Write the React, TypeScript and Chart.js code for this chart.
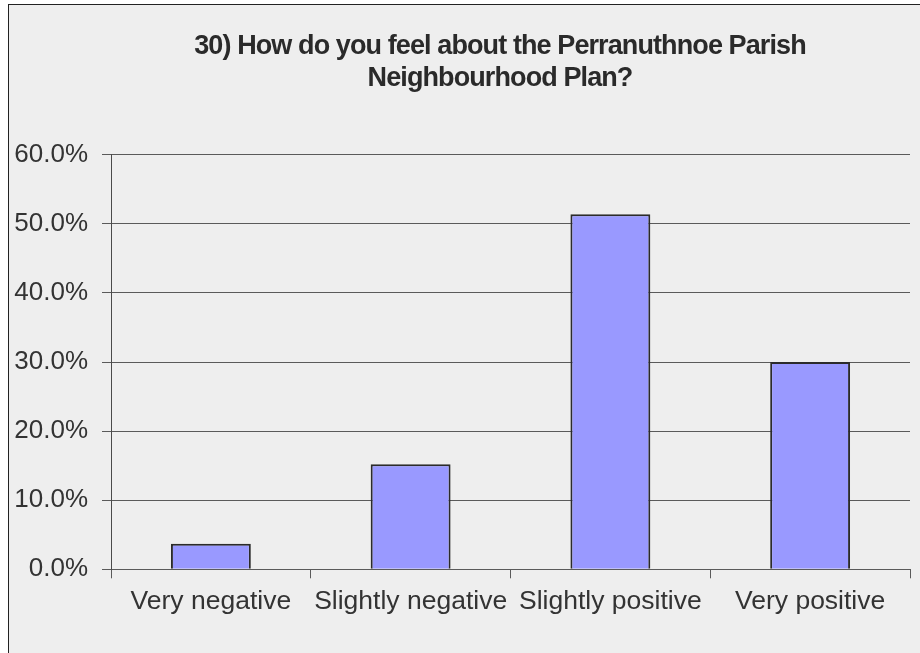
import React, { useEffect, useRef } from "react";
import { Chart, registerables } from "chart.js";

Chart.register(...registerables);

const titleLines = ["30) How do you feel about the Perranuthnoe Parish", "Neighbourhood Plan?"];
const categories = ["Very negative", "Slightly negative", "Slightly positive", "Very positive"];
const percentages = [3.7, 15.2, 51.4, 30.0];
const yMin = 0;
const yMax = 60;
const yStep = 10;

const FONT = "'Liberation Sans', Arial, sans-serif";

const condensedTitle = {
  id: "condensedTitle",
  afterDraw(chart: any) {
    const ctx = chart.ctx as CanvasRenderingContext2D;
    ctx.save();
    ctx.font = `bold 27px ${FONT}`;
    ctx.fillStyle = "#2a2a2a";
    ctx.textAlign = "center";
    ctx.textBaseline = "middle";
    (ctx as any).letterSpacing = "-0.9px";
    titleLines.forEach((line, i) => {
      ctx.fillText(line, 500, 47 + i * 32);
    });
    ctx.restore();
  },
};

export default function App() {
  const ref = useRef<HTMLCanvasElement>(null);

  useEffect(() => {
    if (!ref.current) return;
    const chart = new Chart(ref.current, {
      type: "bar",
      data: {
        labels: categories,
        datasets: [
          {
            data: percentages,
            backgroundColor: "#9999ff",
            borderColor: "#2b2b2b",
            borderWidth: 2,
            categoryPercentage: 1,
            barPercentage: 0.4,
          },
        ],
      },
      options: {
        animation: false,
        responsive: false,
        maintainAspectRatio: false,
        layout: { padding: { left: 0, right: 10, top: 154.7, bottom: 0 } },
        plugins: {
          legend: { display: false },
          tooltip: { enabled: false },
          title: { display: false },
        },
        scales: {
          x: {
            grid: {
              offset: true,
              drawOnChartArea: false,
              drawTicks: true,
              tickLength: 9,
              color: "#5a5a5a",
            },
            border: { color: "#5a5a5a", width: 1 },
            ticks: {
              color: "#333333",
              font: { family: FONT, size: 26.5 },
              padding: 7,
              maxRotation: 0,
              autoSkip: false,
            },
            afterFit: (s: any) => {
              s.height = 83.7;
            },
          },
          y: {
            min: yMin,
            max: yMax,
            ticks: {
              stepSize: yStep,
              color: "#333333",
              font: { family: FONT, size: 26 },
              padding: 14,
              callback: (v: any) => Number(v).toFixed(1) + "%",
            },
            grid: { tickLength: 9, color: "#5a5a5a", lineWidth: 1 },
            border: { color: "#4a4a4a", width: 1 },
            afterFit: (s: any) => {
              s.width = 111;
            },
          },
        },
      },
      plugins: [condensedTitle],
    });
    return () => chart.destroy();
  }, []);

  return (
    <div style={{ position: "fixed", left: 0, top: 0, width: 920, height: 653, background: "#ffffff", overflow: "hidden" }}>
      <div
        style={{
          position: "absolute",
          left: 8,
          top: 4,
          width: 940,
          height: 680,
          background: "#eeeeee",
          borderLeft: "1px solid #222222",
          borderTop: "1px solid #222222",
        }}
      />
      <canvas ref={ref} width={920} height={653} style={{ position: "absolute", left: 0, top: 0, width: 920, height: 653 }} />
    </div>
  );
}
